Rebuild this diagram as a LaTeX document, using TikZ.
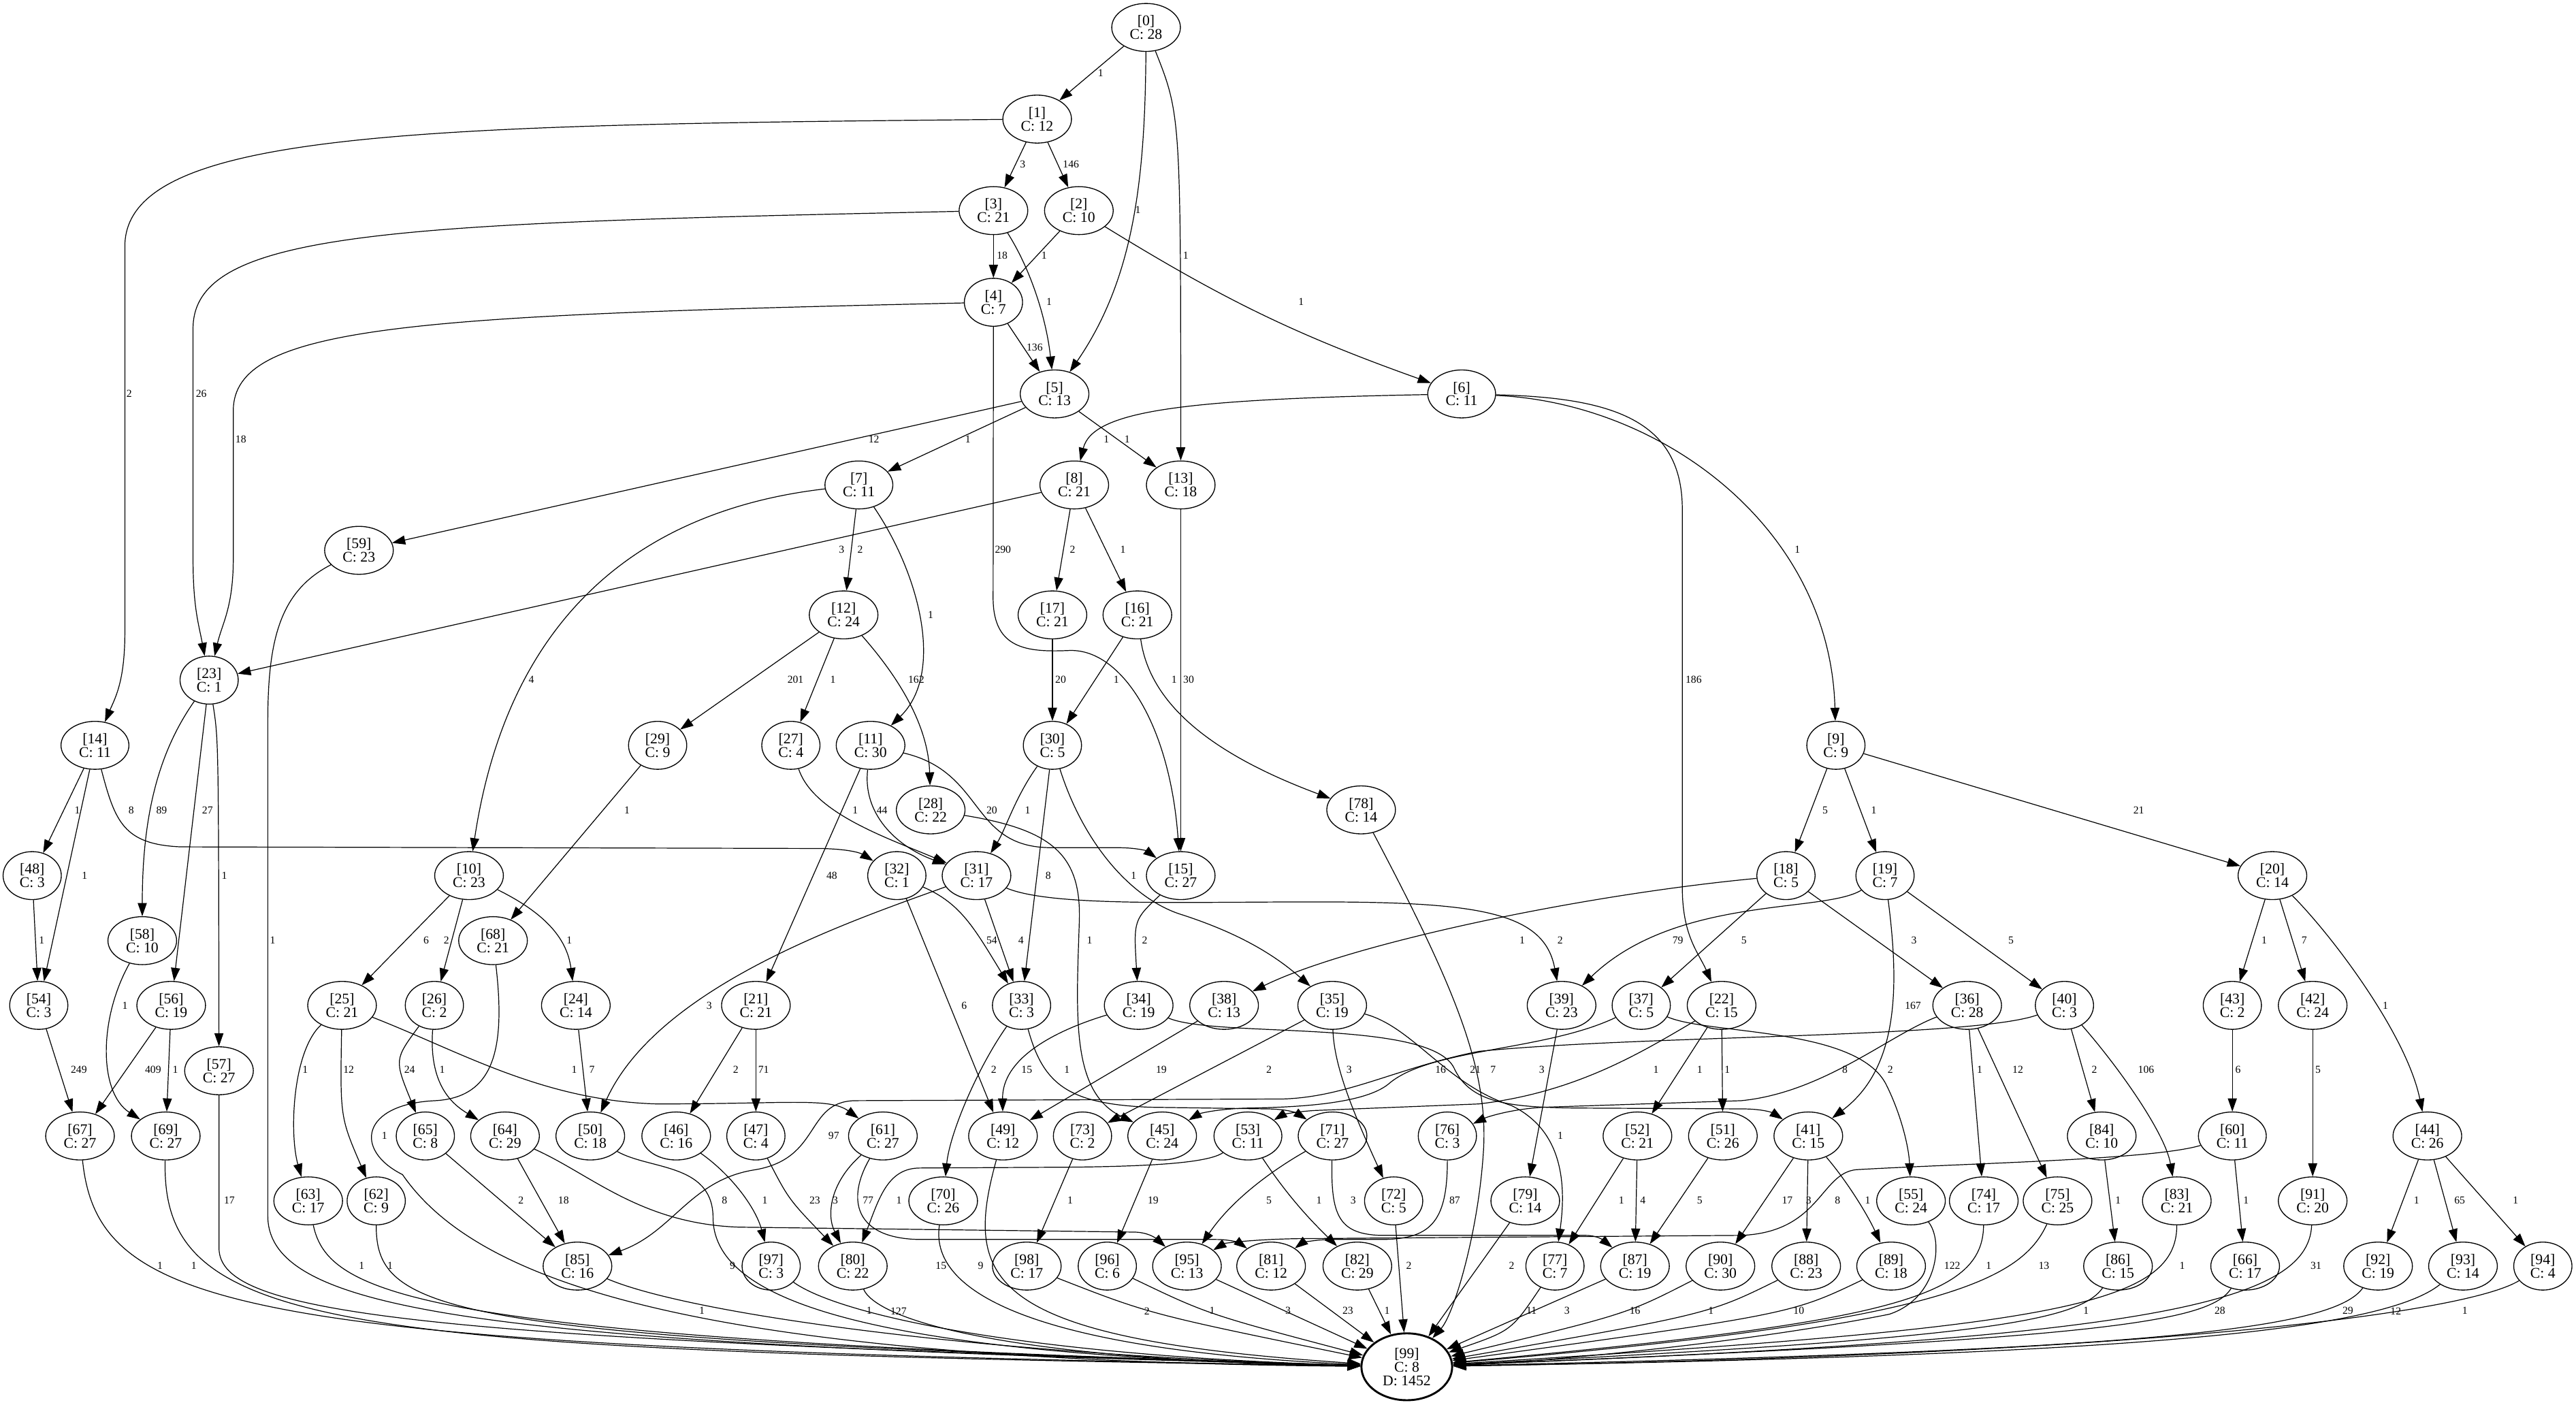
\documentclass[tikz,border=0pt]{standalone}
\usepackage{fontspec}
\setmainfont{Liberation Serif}
\usetikzlibrary{arrows.meta,shapes.geometric}

\begin{document}
\begin{tikzpicture}[x=1pt,y=1pt]
\useasboundingbox (0,0) rectangle (1568,-855);

\tikzset{StateStyle/.style = {
 shape = ellipse,
 draw,
 line width = 0.55pt,
 inner xsep = 4.9pt,
 inner ysep = 1pt,
 minimum height = 29.2pt,
 align = center,
 font = \fontsize{9}{8.2}\selectfont} }

\node[StateStyle] (S0) at (697.6,-16.7) {[0]\\C: 28};
\node[StateStyle] (S1) at (631.3,-72.5) {[1]\\C: 12};
\node[StateStyle] (S2) at (656.7,-128.2) {[2]\\C: 10};
\node[StateStyle] (S3) at (604.7,-128.2) {[3]\\C: 21};
\node[StateStyle] (S4) at (604.7,-184) {[4]\\C: 7};
\node[StateStyle] (S5) at (641.9,-239.8) {[5]\\C: 13};
\node[StateStyle] (S6) at (889.7,-239.8) {[6]\\C: 11};
\node[StateStyle] (S7) at (522.8,-295.2) {[7]\\C: 11};
\node[StateStyle] (S8) at (653.9,-295.2) {[8]\\C: 21};
\node[StateStyle] (S13) at (718.7,-295.2) {[13]\\C: 18};
\node[StateStyle] (S59) at (218.5,-335) {[59]\\C: 23};
\node[StateStyle] (S12) at (513.5,-374.3) {[12]\\C: 24};
\node[StateStyle] (S17) at (640.6,-374.3) {[17]\\C: 21};
\node[StateStyle] (S16) at (692.3,-374.3) {[16]\\C: 21};
\node[StateStyle] (S23) at (127.3,-414) {[23]\\C: 1};
\node[StateStyle] (S14) at (57.8,-453.7) {[14]\\C: 11};
\node[StateStyle] (S29) at (400.3,-453.7) {[29]\\C: 9};
\node[StateStyle] (S27) at (481.4,-453.7) {[27]\\C: 4};
\node[StateStyle] (S11) at (529.9,-453.7) {[11]\\C: 30};
\node[StateStyle] (S30) at (640.6,-453.7) {[30]\\C: 5};
\node[StateStyle] (S9) at (1117.5,-453.7) {[9]\\C: 9};
\node[StateStyle] (S28) at (566.5,-493) {[28]\\C: 22};
\node[StateStyle] (S78) at (828.5,-493) {[78]\\C: 14};
\node[StateStyle] (S48) at (19.6,-533) {[48]\\C: 3};
\node[StateStyle] (S10) at (285.5,-533) {[10]\\C: 23};
\node[StateStyle] (S32) at (545.9,-533) {[32]\\C: 1};
\node[StateStyle] (S31) at (594.4,-533) {[31]\\C: 17};
\node[StateStyle] (S15) at (718.7,-533) {[15]\\C: 27};
\node[StateStyle] (S18) at (1087.1,-533) {[18]\\C: 5};
\node[StateStyle] (S19) at (1147.4,-533) {[19]\\C: 7};
\node[StateStyle] (S20) at (1383.2,-533) {[20]\\C: 14};
\node[StateStyle] (S58) at (86.6,-572.6) {[58]\\C: 10};
\node[StateStyle] (S68) at (300.1,-572.6) {[68]\\C: 21};
\node[StateStyle] (S54) at (23.6,-612) {[54]\\C: 3};
\node[StateStyle] (S56) at (104.2,-612) {[56]\\C: 19};
\node[StateStyle] (S25) at (208.2,-612) {[25]\\C: 21};
\node[StateStyle] (S26) at (264.4,-612) {[26]\\C: 2};
\node[StateStyle] (S24) at (350.5,-612) {[24]\\C: 14};
\node[StateStyle] (S21) at (460.1,-612) {[21]\\C: 21};
\node[StateStyle] (S33) at (621.8,-612) {[33]\\C: 3};
\node[StateStyle] (S34) at (693.1,-612) {[34]\\C: 19};
\node[StateStyle] (S38) at (745.1,-612) {[38]\\C: 13};
\node[StateStyle] (S35) at (810.9,-612) {[35]\\C: 19};
\node[StateStyle] (S39) at (950.5,-612) {[39]\\C: 23};
\node[StateStyle] (S37) at (999,-612) {[37]\\C: 5};
\node[StateStyle] (S22) at (1047.9,-612) {[22]\\C: 15};
\node[StateStyle] (S36) at (1197.4,-612) {[36]\\C: 28};
\node[StateStyle] (S40) at (1256.6,-612) {[40]\\C: 3};
\node[StateStyle] (S43) at (1358.8,-612) {[43]\\C: 2};
\node[StateStyle] (S42) at (1407.7,-612) {[42]\\C: 24};
\node[StateStyle] (S57) at (133.3,-651.8) {[57]\\C: 27};
\node[StateStyle] (S67) at (48.7,-691.5) {[67]\\C: 27};
\node[StateStyle] (S69) at (100.9,-691.5) {[69]\\C: 27};
\node[StateStyle] (S65) at (258.9,-691.5) {[65]\\C: 8};
\node[StateStyle] (S64) at (307.4,-691.5) {[64]\\C: 29};
\node[StateStyle] (S50) at (359.3,-691.5) {[50]\\C: 18};
\node[StateStyle] (S46) at (411.6,-691.5) {[46]\\C: 16};
\node[StateStyle] (S47) at (460.1,-691.5) {[47]\\C: 4};
\node[StateStyle] (S61) at (537.4,-691.5) {[61]\\C: 27};
\node[StateStyle] (S49) at (610.5,-691.5) {[49]\\C: 12};
\node[StateStyle] (S73) at (658.9,-691.5) {[73]\\C: 2};
\node[StateStyle] (S45) at (707.4,-691.5) {[45]\\C: 24};
\node[StateStyle] (S53) at (759.6,-691.5) {[53]\\C: 11};
\node[StateStyle] (S71) at (811.1,-691.5) {[71]\\C: 27};
\node[StateStyle] (S76) at (881,-691.5) {[76]\\C: 3};
\node[StateStyle] (S52) at (996.7,-691.5) {[52]\\C: 21};
\node[StateStyle] (S51) at (1048.7,-691.5) {[51]\\C: 26};
\node[StateStyle] (S41) at (1100.7,-691.5) {[41]\\C: 15};
\node[StateStyle] (S84) at (1279.3,-691.5) {[84]\\C: 10};
\node[StateStyle] (S60) at (1358.8,-691.5) {[60]\\C: 11};
\node[StateStyle] (S44) at (1477.5,-691.5) {[44]\\C: 26};
\node[StateStyle] (S63) at (187.6,-731) {[63]\\C: 17};
\node[StateStyle] (S62) at (229,-731) {[62]\\C: 9};
\node[StateStyle] (S70) at (574.1,-731) {[70]\\C: 26};
\node[StateStyle] (S72) at (848.3,-731) {[72]\\C: 5};
\node[StateStyle] (S79) at (928.4,-731) {[79]\\C: 14};
\node[StateStyle] (S55) at (1163.2,-731) {[55]\\C: 24};
\node[StateStyle] (S74) at (1207.5,-731) {[74]\\C: 17};
\node[StateStyle] (S75) at (1252.4,-731) {[75]\\C: 25};
\node[StateStyle] (S83) at (1325,-731) {[83]\\C: 21};
\node[StateStyle] (S91) at (1407.7,-731) {[91]\\C: 20};
\node[StateStyle] (S85) at (351.5,-770.7) {[85]\\C: 16};
\node[StateStyle] (S97) at (469.4,-770.7) {[97]\\C: 3};
\node[StateStyle] (S80) at (519.1,-770.7) {[80]\\C: 22};
\node[StateStyle] (S98) at (625,-770.7) {[98]\\C: 17};
\node[StateStyle] (S96) at (674,-770.7) {[96]\\C: 6};
\node[StateStyle] (S95) at (722.5,-770.7) {[95]\\C: 13};
\node[StateStyle] (S81) at (773.7,-770.7) {[81]\\C: 12};
\node[StateStyle] (S82) at (826.2,-770.7) {[82]\\C: 29};
\node[StateStyle] (S77) at (946.5,-770.7) {[77]\\C: 7};
\node[StateStyle] (S87) at (995.2,-770.7) {[87]\\C: 19};
\node[StateStyle] (S90) at (1047.2,-770.7) {[90]\\C: 30};
\node[StateStyle] (S88) at (1099.4,-770.7) {[88]\\C: 23};
\node[StateStyle] (S89) at (1151.1,-770.7) {[89]\\C: 18};
\node[StateStyle] (S86) at (1289.2,-770.7) {[86]\\C: 15};
\node[StateStyle] (S66) at (1366.6,-770.7) {[66]\\C: 17};
\node[StateStyle] (S92) at (1447.5,-770.7) {[92]\\C: 19};
\node[StateStyle] (S93) at (1499.2,-770.7) {[93]\\C: 14};
\node[StateStyle] (S94) at (1547.8,-770.7) {[94]\\C: 4};
\node[StateStyle, line width=1.2pt, minimum height=40.7pt] (S99) at (856.3,-832) {[99]\\C: 8\\D: 1452};


\tikzset{EdgeStyle/.style = {line width=0.5pt, -{Triangle[length=8pt,width=5.5pt]}} }
\tikzset{LabelStyle/.style = {font=\fontsize{6.5}{7}\selectfont, inner sep=0pt} }

\draw[EdgeStyle] (S0) -- (S1) node[LabelStyle] at (670,-44.4) {1};
\draw[EdgeStyle] (S0) .. controls (697,-110) and (690,-170) .. (S5) node[LabelStyle] at (692.6,-127.7) {1};
\draw[EdgeStyle] (S0) .. controls (718.7,-70) .. (S13) node[LabelStyle] at (721.7,-155.4) {1};
\draw[EdgeStyle] (S1) -- (S3) node[LabelStyle] at (622.5,-100.1) {3};
\draw[EdgeStyle] (S1) -- (S2) node[LabelStyle] at (651.9,-100.1) {146};
\draw[EdgeStyle] (S1) .. controls (250,-76) and (76,-80) .. (76,-150) -- (76,-385) .. controls (76,-415) and (70,-425) .. (S14) node[LabelStyle] at (78.6,-239.6) {2};
\draw[EdgeStyle] (S3) -- (S4) node[LabelStyle] at (610,-155.4) {18};
\draw[EdgeStyle] (S2) -- (S4) node[LabelStyle] at (635.6,-155.4) {1};
\draw[EdgeStyle] (S3) .. controls (628,-165) and (637,-195) .. (S5) node[LabelStyle] at (638.6,-183.5) {1};
\draw[EdgeStyle] (S3) .. controls (240,-136) and (117.5,-140) .. (117.5,-200) -- (117.5,-340) .. controls (117.5,-370) and (121,-380) .. (S23) node[LabelStyle] at (122.5,-239.6) {26};
\draw[EdgeStyle] (S2) to[bend right=6] (S6) node[LabelStyle] at (792,-183.5) {1};
\draw[EdgeStyle] (S4) -- (S5) node[LabelStyle] at (629.8,-211.5) {136};
\draw[EdgeStyle] (S4) .. controls (250,-192) and (142,-198) .. (142,-250) -- (142,-340) .. controls (142,-370) and (135,-380) .. (S23) node[LabelStyle] at (146.6,-267.3) {18};
\draw[EdgeStyle] (S4) -- (604.5,-365) .. controls (605,-395) and (625,-397) .. (650,-396) .. controls (682,-394) and (712,-440) .. (S15) node[LabelStyle] at (610.5,-334.6) {290};
\draw[EdgeStyle] (S5) -- (S59) node[LabelStyle] at (531.9,-267.3) {12};
\draw[EdgeStyle] (S5) -- (S7) node[LabelStyle] at (589.1,-267.3) {1};
\draw[EdgeStyle] (S5) -- (S13) node[LabelStyle] at (686.1,-267.3) {1};
\draw[EdgeStyle] (S6) .. controls (720,-243) and (665,-250) .. (S8) node[LabelStyle] at (673.5,-267.3) {1};
\draw[EdgeStyle] (S6) .. controls (980,-242) and (1024,-255) .. (1024,-310) -- (1024,-540) .. controls (1024,-570) and (1034,-580) .. (S22) node[LabelStyle] at (1030.9,-413.6) {186};
\draw[EdgeStyle] (S6) .. controls (1010,-245) and (1114,-320) .. (S9) node[LabelStyle] at (1094.1,-334.6) {1};
\draw[EdgeStyle] (S7) -- (S12) node[LabelStyle] at (523.6,-334.6) {2};
\draw[EdgeStyle] (S7) .. controls (395,-310) and (310,-370) .. (S10) node[LabelStyle] at (323.4,-413.6) {4};
\draw[EdgeStyle] (S7) .. controls (560,-350) and (575,-410) .. (S11) node[LabelStyle] at (566.5,-374.1) {1};
\draw[EdgeStyle] (S8) -- (S23) node[LabelStyle] at (512.3,-334.6) {3};
\draw[EdgeStyle] (S8) -- (S17) node[LabelStyle] at (652.9,-334.6) {2};
\draw[EdgeStyle] (S8) -- (S16) node[LabelStyle] at (683.5,-334.6) {1};
\draw[EdgeStyle] (S13) -- (S15) node[LabelStyle] at (723.5,-413.6) {30};
\draw[EdgeStyle] (S59) .. controls (170,-360) and (163,-390) .. (163,-440) -- (163,-740) .. controls (163,-800) and (300,-818) .. (S99) node[LabelStyle] at (166,-572.3) {1};
\draw[EdgeStyle] (S12) -- (S29) node[LabelStyle] at (484.2,-413.6) {201};
\draw[EdgeStyle] (S12) -- (S27) node[LabelStyle] at (507,-413.6) {1};
\draw[EdgeStyle] (S12) .. controls (545,-410) and (565,-440) .. (S28) node[LabelStyle] at (557.7,-413.6) {162};
\draw[EdgeStyle] (S17) -- (S30) node[LabelStyle] at (645.6,-413.6) {20};
\draw[EdgeStyle] (S16) -- (S30) node[LabelStyle] at (679.5,-413.6) {1};
\draw[EdgeStyle] (S16) .. controls (700,-430) and (740,-460) .. (S78) node[LabelStyle] at (714.7,-413.6) {1};
\draw[EdgeStyle] (S23) .. controls (95,-460) and (86.6,-500) .. (S58) node[LabelStyle] at (98.4,-493.1) {89};
\draw[EdgeStyle] (S23) -- (S56) node[LabelStyle] at (126.3,-493.1) {27};
\draw[EdgeStyle] (S23) .. controls (133,-450) .. (S57) node[LabelStyle] at (136.6,-532.9) {1};
\draw[EdgeStyle] (S14) -- (S48) node[LabelStyle] at (47,-493.1) {1};
\draw[EdgeStyle] (S14) -- (S54) node[LabelStyle] at (51.5,-532.9) {1};
\draw[EdgeStyle] (S14) .. controls (70,-500) and (75,-514) .. (110,-515.5) -- (500,-516.5) .. controls (520,-517) and (525,-520) .. (S32) node[LabelStyle] at (79.9,-493.1) {8};
\draw[EdgeStyle] (S29) -- (S68) node[LabelStyle] at (381.7,-493.1) {1};
\draw[EdgeStyle] (S27) .. controls (495,-495) and (540,-510) .. (S31) node[LabelStyle] at (520.6,-493.1) {1};
\draw[EdgeStyle] (S11) .. controls (525,-495) and (545,-515) .. (S31) node[LabelStyle] at (536.9,-493.1) {44};
\draw[EdgeStyle] (S11) -- (S21) node[LabelStyle] at (506.3,-532.9) {48};
\draw[EdgeStyle] (S11) .. controls (600,-470) and (590,-516) .. (640,-516) -- (680,-516) .. controls (692,-516) and (698,-518) .. (S15) node[LabelStyle] at (603.7,-493.1) {20};
\draw[EdgeStyle] (S28) .. controls (640,-505) and (658,-520) .. (657,-560) .. controls (655,-620) and (652,-665) .. (S45) node[LabelStyle] at (663.2,-572.3) {1};
\draw[EdgeStyle] (S30) .. controls (618,-485) and (612,-505) .. (S31) node[LabelStyle] at (625.5,-493.1) {1};
\draw[EdgeStyle] (S30) -- (S33) node[LabelStyle] at (638,-532.9) {8};
\draw[EdgeStyle] (S30) .. controls (660,-515) and (690,-548) .. (720,-557) .. controls (760,-570) and (780,-585) .. (S35) node[LabelStyle] at (690,-532.9) {1};
\draw[EdgeStyle] (S9) -- (S18) node[LabelStyle] at (1110.9,-493.1) {5};
\draw[EdgeStyle] (S9) -- (S19) node[LabelStyle] at (1140.6,-493.1) {1};
\draw[EdgeStyle] (S9) -- (S20) node[LabelStyle] at (1301.8,-493.1) {21};
\draw[EdgeStyle] (S31) -- (S33) node[LabelStyle] at (621.5,-572.3) {4};
\draw[EdgeStyle] (S32) .. controls (585,-550) and (593,-565) .. (S33) node[LabelStyle] at (603.7,-572.3) {54};
\draw[EdgeStyle] (S31) .. controls (520,-560) and (400,-600) .. (S50) node[LabelStyle] at (431.7,-612) {3};
\draw[EdgeStyle] (S31) .. controls (640,-552) and (720,-549) .. (800,-549) .. controls (900,-549) and (940,-555) .. (S39) node[LabelStyle] at (949.7,-572.3) {2};
\draw[EdgeStyle] (S32) -- (S49) node[LabelStyle] at (586.9,-612) {6};
\draw[EdgeStyle] (S15) .. controls (690,-560) .. (S34) node[LabelStyle] at (696.8,-572.3) {2};
\draw[EdgeStyle] (S78) .. controls (885,-600) and (906,-650) .. (903,-700) .. controls (900,-750) and (885,-800) .. (S99) node[LabelStyle] at (908.8,-651.3) {7};
\draw[EdgeStyle] (S10) -- (S25) node[LabelStyle] at (259.4,-572.3) {6};
\draw[EdgeStyle] (S10) -- (S26) node[LabelStyle] at (271.7,-572.3) {2};
\draw[EdgeStyle] (S10) .. controls (330,-555) and (345,-570) .. (S24) node[LabelStyle] at (346.5,-572.3) {1};
\draw[EdgeStyle] (S48) -- (S54) node[LabelStyle] at (25.4,-572.3) {1};
\draw[EdgeStyle] (S18) .. controls (960,-545) and (820,-575) .. (S38) node[LabelStyle] at (926.6,-572.3) {1};
\draw[EdgeStyle] (S18) -- (S37) node[LabelStyle] at (1061.5,-572.3) {5};
\draw[EdgeStyle] (S18) -- (S36) node[LabelStyle] at (1165,-572.3) {3};
\draw[EdgeStyle] (S19) .. controls (1110,-556) and (1020,-545) .. (S39) node[LabelStyle] at (1021.3,-572.3) {79};
\draw[EdgeStyle] (S19) .. controls (1156,-600) and (1156,-650) .. (S41) node[LabelStyle] at (1164.4,-612) {167};
\draw[EdgeStyle] (S19) -- (S40) node[LabelStyle] at (1224.1,-572.3) {5};
\draw[EdgeStyle] (S20) -- (S43) node[LabelStyle] at (1378.2,-572.3) {1};
\draw[EdgeStyle] (S20) -- (S42) node[LabelStyle] at (1402.6,-572.3) {7};
\draw[EdgeStyle] (S20) .. controls (1420,-570) and (1465,-630) .. (S44) node[LabelStyle] at (1452,-612) {1};
\draw[EdgeStyle] (S58) .. controls (60,-620) and (60,-665) .. (S69) node[LabelStyle] at (76.1,-612) {1};
\draw[EdgeStyle] (S54) -- (S67) node[LabelStyle] at (48,-651.3) {249};
\draw[EdgeStyle] (S56) -- (S67) node[LabelStyle] at (93.2,-651.3) {409};
\draw[EdgeStyle] (S56) -- (S69) node[LabelStyle] at (106.7,-651.3) {1};
\draw[EdgeStyle] (S57) -- (133.3,-760) .. controls (134,-800) and (250,-815) .. (S99) node[LabelStyle] at (139.6,-730.8) {17};
\draw[EdgeStyle] (S25) .. controls (178,-640) and (176,-690) .. (S63) node[LabelStyle] at (185.8,-651.3) {1};
\draw[EdgeStyle] (S25) .. controls (207,-680) .. (S62) node[LabelStyle] at (212.2,-651.3) {12};
\draw[EdgeStyle] (S25) .. controls (280,-640) and (330,-670) .. (400,-672) .. controls (480,-672) and (505,-668) .. (S61) node[LabelStyle] at (349.5,-651.3) {1};
\draw[EdgeStyle] (S26) .. controls (240,-645) .. (S65) node[LabelStyle] at (249.3,-651.3) {24};
\draw[EdgeStyle] (S26) .. controls (261,-660) and (275,-672) .. (S64) node[LabelStyle] at (269.2,-651.3) {1};
\draw[EdgeStyle] (S24) -- (S50) node[LabelStyle] at (360.3,-651.3) {7};
\draw[EdgeStyle] (S68) .. controls (308,-640) and (300,-668) .. (265,-670) .. controls (220,-672) and (215,-700) .. (245,-715) .. controls (290,-780) and (420,-828) .. (S99) node[LabelStyle] at (234,-691.4) {1};
\draw[EdgeStyle] (S21) -- (S46) node[LabelStyle] at (447.8,-651.3) {2};
\draw[EdgeStyle] (S21) -- (S47) node[LabelStyle] at (464.8,-651.3) {71};
\draw[EdgeStyle] (S33) .. controls (595,-650) and (578,-690) .. (S70) node[LabelStyle] at (604.9,-651.3) {2};
\draw[EdgeStyle] (S34) .. controls (640,-628) and (610,-645) .. (S49) node[LabelStyle] at (625,-651.3) {15};
\draw[EdgeStyle] (S33) .. controls (635,-660) and (650,-672) .. (700,-674) -- (770,-675) .. controls (785,-675) and (790,-678) .. (S71) node[LabelStyle] at (649.4,-651.3) {1};
\draw[EdgeStyle] (S38) -- (S49) node[LabelStyle] at (706.9,-651.3) {19};
\draw[EdgeStyle] (S35) -- (S73) node[LabelStyle] at (772.4,-651.3) {2};
\draw[EdgeStyle] (S35) .. controls (812,-650) and (825,-680) .. (S72) node[LabelStyle] at (821.2,-651.3) {3};
\draw[EdgeStyle] (S37) .. controls (940,-640) and (870,-638) .. (845,-660) .. controls (830,-672) and (790,-674) .. (760,-674.5) .. controls (740,-675) and (730,-678) .. (S45) node[LabelStyle] at (876.9,-651.3) {16};
\draw[EdgeStyle] (S34) .. controls (740,-632) and (870,-620) .. (885,-650) .. controls (895,-672) and (920,-674) .. (960,-674.5) -- (1060,-675) .. controls (1075,-675) and (1080,-678) .. (S41) node[LabelStyle] at (898,-651.3) {21};
\draw[EdgeStyle] (S39) -- (S79) node[LabelStyle] at (938.5,-651.3) {3};
\draw[EdgeStyle] (S22) .. controls (1000,-640) and (960,-665) .. (900,-672) -- (800,-676) .. controls (785,-677) and (780,-679) .. (S53) node[LabelStyle] at (1008,-651.3) {1};
\draw[EdgeStyle] (S22) -- (S52) node[LabelStyle] at (1034.6,-651.3) {1};
\draw[EdgeStyle] (S22) -- (S51) node[LabelStyle] at (1051.4,-651.3) {1};
\draw[EdgeStyle] (S36) .. controls (1150,-630) and (1110,-665) .. (1060,-670) -- (940,-674) .. controls (920,-675) and (905,-680) .. (S76) node[LabelStyle] at (1123,-651.3) {8};
\draw[EdgeStyle] (S37) .. controls (1040,-630) and (1130,-625) .. (1148,-660) .. controls (1158,-680) and (1162,-700) .. (S55) node[LabelStyle] at (1150.6,-651.3) {2};
\draw[EdgeStyle] (S36) -- (S74) node[LabelStyle] at (1205,-651.3) {1};
\draw[EdgeStyle] (S36) -- (S75) node[LabelStyle] at (1228.2,-651.3) {12};
\draw[EdgeStyle] (S40) -- (S84) node[LabelStyle] at (1274.8,-651.3) {2};
\draw[EdgeStyle] (S40) .. controls (1290,-650) and (1318,-690) .. (S83) node[LabelStyle] at (1306.3,-651.3) {106};
\draw[EdgeStyle] (S43) -- (S60) node[LabelStyle] at (1362.3,-651.3) {6};
\draw[EdgeStyle] (S42) -- (S91) node[LabelStyle] at (1410.9,-651.3) {5};
\draw[EdgeStyle] (S40) .. controls (1200,-632) and (1000,-630) .. (900,-640) .. controls (850,-650) and (820,-668) .. (780,-669) -- (520,-670) .. controls (490,-671) and (500,-705) .. (460,-712) .. controls (420,-718) and (410,-750) .. (S85) node[LabelStyle] at (507.5,-691.4) {97};
\draw[EdgeStyle] (S35) .. controls (860,-625) and (880,-660) .. (920,-673) .. controls (945,-685) and (955,-710) .. (S77) node[LabelStyle] at (949.8,-691.4) {1};
\draw[EdgeStyle] (S44) -- (S92) node[LabelStyle] at (1470.9,-730.8) {1};
\draw[EdgeStyle] (S44) -- (S93) node[LabelStyle] at (1497.2,-730.8) {65};
\draw[EdgeStyle] (S44) -- (S94) node[LabelStyle] at (1531.2,-730.8) {1};
\draw[EdgeStyle] (S65) -- (S85) node[LabelStyle] at (317.1,-730.8) {2};
\draw[EdgeStyle] (S64) -- (S85) node[LabelStyle] at (343,-730.8) {18};
\draw[EdgeStyle] (S64) .. controls (360,-715) and (390,-745) .. (450,-747) -- (690,-750) .. controls (700,-750) and (705,-755) .. (S95) node[LabelStyle] at (441,-730.8) {8};
\draw[EdgeStyle] (S46) .. controls (445,-715) and (460,-735) .. (S97) node[LabelStyle] at (465.6,-730.8) {1};
\draw[EdgeStyle] (S47) .. controls (480,-730) .. (S80) node[LabelStyle] at (496,-730.8) {23};
\draw[EdgeStyle] (S61) .. controls (505,-720) and (503,-740) .. (S80) node[LabelStyle] at (508.5,-730.8) {3};
\draw[EdgeStyle] (S61) .. controls (515,-730) and (520,-754) .. (560,-754.5) -- (740,-754.5) .. controls (750,-754.5) and (755,-757) .. (S81) node[LabelStyle] at (528.4,-730.8) {77};
\draw[EdgeStyle] (S53) .. controls (735,-708) and (700,-710) .. (650,-710.5) -- (560,-711) .. controls (540,-711) and (535,-730) .. (S80) node[LabelStyle] at (547.2,-730.8) {1};
\draw[EdgeStyle] (S73) -- (S98) node[LabelStyle] at (651.4,-730.8) {1};
\draw[EdgeStyle] (S45) -- (S96) node[LabelStyle] at (701.9,-730.8) {19};
\draw[EdgeStyle] (S71) .. controls (775,-712) and (750,-730) .. (S95) node[LabelStyle] at (772.4,-730.8) {5};
\draw[EdgeStyle] (S53) .. controls (785,-730) and (800,-745) .. (S82) node[LabelStyle] at (802.9,-730.8) {1};
\draw[EdgeStyle] (S71) .. controls (810,-740) and (815,-751) .. (840,-752) -- (965,-752) .. controls (972,-752) and (976,-755) .. (S87) node[LabelStyle] at (823.7,-730.8) {3};
\draw[EdgeStyle] (S76) .. controls (881,-745) and (870,-754.5) .. (840,-754.5) -- (810,-754.5) .. controls (800,-754.5) and (792,-757) .. (S81) node[LabelStyle] at (885.5,-730.8) {87};
\draw[EdgeStyle] (S52) -- (S77) node[LabelStyle] at (986.9,-730.8) {1};
\draw[EdgeStyle] (S52) -- (S87) node[LabelStyle] at (1000,-730.8) {4};
\draw[EdgeStyle] (S51) -- (S87) node[LabelStyle] at (1034.6,-730.8) {5};
\draw[EdgeStyle] (S41) -- (S90) node[LabelStyle] at (1087.9,-730.8) {17};
\draw[EdgeStyle] (S41) -- (S88) node[LabelStyle] at (1100.9,-730.8) {3};
\draw[EdgeStyle] (S41) .. controls (1125,-720) and (1137,-740) .. (S89) node[LabelStyle] at (1136.8,-730.8) {1};
\draw[EdgeStyle] (S60) .. controls (1310,-706) and (1200,-708) .. (1130,-712) .. controls (1108,-714) and (1108,-750) .. (1060,-752) -- (790,-754) .. controls (760,-754.5) and (745,-757) .. (S95) node[LabelStyle] at (1118.5,-730.8) {8};
\draw[EdgeStyle] (S84) -- (S86) node[LabelStyle] at (1289.2,-730.8) {1};
\draw[EdgeStyle] (S60) -- (S66) node[LabelStyle] at (1367.1,-730.8) {1};

\draw[EdgeStyle] (S67) .. controls (60,-800) and (150,-820) .. (S99) node[LabelStyle] at (97.4,-770.6) {1};
\draw[EdgeStyle] (S69) .. controls (98,-810) and (200,-822) .. (S99) node[LabelStyle] at (118,-770.6) {1};
\draw[EdgeStyle] (S63) .. controls (200,-790) and (260,-815) .. (S99) node[LabelStyle] at (220.2,-770.6) {1};
\draw[EdgeStyle] (S62) .. controls (229,-800) and (270,-815) .. (S99) node[LabelStyle] at (237.5,-770.6) {1};
\draw[EdgeStyle] (S85) .. controls (420,-800) and (600,-825) .. (S99) node[LabelStyle] at (427.2,-798) {1};
\draw[EdgeStyle] (S50) .. controls (395,-712) and (433,-708) .. (434,-740) .. controls (433,-790) and (520,-825) .. (S99) node[LabelStyle] at (445.9,-770.6) {9};
\draw[EdgeStyle] (S97) .. controls (510,-800) and (620,-825) .. (S99) node[LabelStyle] at (529.1,-798) {1};
\draw[EdgeStyle] (S80) .. controls (535,-805) and (620,-828) .. (S99) node[LabelStyle] at (546.9,-798) {127};
\draw[EdgeStyle] (S70) .. controls (565,-790) and (640,-822) .. (S99) node[LabelStyle] at (572.8,-770.6) {15};
\draw[EdgeStyle] (S49) .. controls (586,-780) and (600,-815) .. (S99) node[LabelStyle] at (596.9,-770.6) {9};
\draw[EdgeStyle] (S98) .. controls (700,-800) .. (S99) node[LabelStyle] at (698.1,-798) {2};
\draw[EdgeStyle] (S96) .. controls (735,-800) .. (S99) node[LabelStyle] at (737.8,-798) {1};
\draw[EdgeStyle] (S95) -- (S99) node[LabelStyle] at (784,-798) {3};
\draw[EdgeStyle] (S81) -- (S99) node[LabelStyle] at (820.4,-798) {23};
\draw[EdgeStyle] (S82) -- (S99) node[LabelStyle] at (844.3,-798) {1};
\draw[EdgeStyle] (S72) -- (S99) node[LabelStyle] at (857.6,-770.6) {2};
\draw[EdgeStyle] (S79) -- (S99) node[LabelStyle] at (920.1,-770.6) {2};
\draw[EdgeStyle] (S77) .. controls (920,-810) .. (S99) node[LabelStyle] at (932.2,-798) {11};
\draw[EdgeStyle] (S87) -- (S99) node[LabelStyle] at (953.8,-798) {3};
\draw[EdgeStyle] (S90) .. controls (990,-800) .. (S99) node[LabelStyle] at (995.2,-798) {16};
\draw[EdgeStyle] (S88) .. controls (1040,-800) .. (S99) node[LabelStyle] at (1041.4,-798) {1};
\draw[EdgeStyle] (S89) .. controls (1090,-800) .. (S99) node[LabelStyle] at (1094.9,-798) {10};
\draw[EdgeStyle] (S55) .. controls (1183,-755) and (1180,-790) .. (1150,-800) .. controls (1050,-820) and (920,-830) .. (S99) node[LabelStyle] at (1188.3,-770.6) {122};
\draw[EdgeStyle] (S74) .. controls (1207,-790) and (1150,-805) .. (S99) node[LabelStyle] at (1210.5,-770.6) {1};
\draw[EdgeStyle] (S75) .. controls (1230,-780) and (1180,-805) .. (S99) node[LabelStyle] at (1244.1,-770.6) {13};
\draw[EdgeStyle] (S86) .. controls (1265,-805) and (1200,-815) .. (S99) node[LabelStyle] at (1269.8,-798) {1};
\draw[EdgeStyle] (S83) .. controls (1325,-795) and (1250,-808) .. (S99) node[LabelStyle] at (1328.3,-770.6) {1};
\draw[EdgeStyle] (S66) .. controls (1345,-805) and (1280,-815) .. (S99) node[LabelStyle] at (1351.2,-798) {28};
\draw[EdgeStyle] (S91) .. controls (1405,-795) and (1300,-815) .. (S99) node[LabelStyle] at (1409.7,-770.6) {31};
\draw[EdgeStyle] (S92) .. controls (1420,-810) and (1300,-822) .. (S99) node[LabelStyle] at (1429.1,-798) {29};
\draw[EdgeStyle] (S93) .. controls (1450,-810) and (1300,-825) .. (S99) node[LabelStyle] at (1458.3,-798) {12};
\draw[EdgeStyle] (S94) .. controls (1500,-800) and (1300,-825) .. (S99) node[LabelStyle] at (1500.4,-798) {1};

\end{tikzpicture}
\end{document}
